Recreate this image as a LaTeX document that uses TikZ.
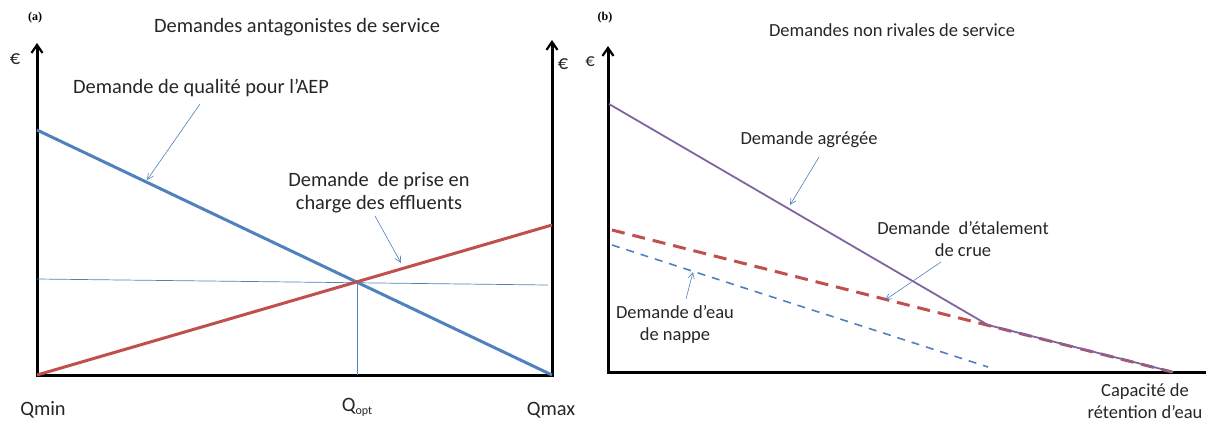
\documentclass[tikz,border=0pt]{standalone}
\usepackage{fontspec}
\setmainfont{Carlito}
\newfontfamily\serifb{Liberation Serif}
\usetikzlibrary{arrows.meta}
\definecolor{oblue}{HTML}{4F81BD}
\definecolor{ored}{HTML}{C0504D}
\definecolor{opurple}{HTML}{8064A2}
\definecolor{txt}{HTML}{262626}
\tikzset{
  axis/.style={line width=3pt, black},
  axarrow/.style={line width=3pt, black, -{Straight Barb[length=8pt,width=11pt,line width=2.2pt]}},
  curve/.style={line width=3pt},
  thinref/.style={line width=0.7pt, oblue},
  callout/.style={line width=0.6pt, oblue, -{Straight Barb[length=6pt,width=6pt]}},
  lbl/.style={font=\fontsize{20.4}{23}\selectfont, text=txt, inner sep=0pt, align=center},
  lblb/.style={font=\fontsize{18.5}{22}\selectfont, text=txt, inner sep=0pt, align=center},
  tag/.style={font=\serifb\bfseries\fontsize{12}{13}\selectfont, inner sep=0pt},
}
\begin{document}
\begin{tikzpicture}[x=1pt,y=-1pt]
\useasboundingbox (0,0) rectangle (1206,423);
% ---------- Panel (a) ----------
\coordinate (aO) at (37,375);
\coordinate (aX) at (552,375);
\coordinate (aYtop) at (37,43);
\coordinate (aRtop) at (552,40);
\draw[axarrow] (aO) -- (aYtop);
\draw[axarrow] (aX) -- (aRtop);
\draw[axis] (35.5,375) -- (553.5,375);
% horizontal and vertical reference lines
\coordinate (hL) at (37,279);
\coordinate (hR) at (548,285);
\coordinate (opt) at (357,282);
\coordinate (optB) at (357,375);
\draw[thinref] (hL) -- (hR);
\draw[thinref] (opt) -- (optB);
% demand curves
\coordinate (bS) at (37,130);
\coordinate (bE) at (552,375);
\coordinate (rS) at (37,375);
\coordinate (rE) at (552,225);
\draw[curve, oblue] (bS) -- (bE);
\draw[curve, ored] (rS) -- (rE);
% labels
\node[tag] (ta) at (35,18) {(a)};
\node[lbl] (titleA) at (297,27) {Demandes antagonistes de service};
\node[lbl] (eA) at (15,59) {€};
\node[lbl] (eA2) at (563,64) {€};
\node[lbl] (qual) at (201,88) {Demande de qualité pour l’AEP};
\coordinate (qualTip) at (147,180);
\draw[callout] (200,104) coordinate (qs) -- (qualTip);
\node[lbl] (prise) at (379,193) {Demande\ \ de prise en\\charge des effluents};
\coordinate (priseTip) at (401,263);
\draw[callout] (375,216) coordinate (ps) -- (priseTip);
\node[lbl] (qmin) at (43,410) {Qmin};
\node[lbl] (qopt) at (357,407) {Q{\fontsize{12}{12}\selectfont\raisebox{-3pt}{opt}}};
\node[lbl] (qmax) at (551,410) {Qmax};
% ---------- Panel (b) ----------
\coordinate (bO) at (608,372);
\coordinate (bYtop) at (608,46);
\draw[axarrow] (bO) -- (bYtop);
\draw[axis] (606.5,372) -- (1206,372);
\coordinate (pS) at (609,104);
\coordinate (pK) at (988,325);
\coordinate (pE) at (1173,372);
\coordinate (rdS) at (612,230);
\coordinate (rdE) at (1172,372);
\coordinate (bdS) at (612,245);
\coordinate (bdE) at (988,367);
\draw[line width=3pt, ored, dash pattern=on 13pt off 8pt] (rdS) -- (rdE);
\draw[line width=1.6pt, oblue, dash pattern=on 8pt off 7pt] (bdS) -- (bdE);
\draw[line width=1.8pt, opurple] (pS) -- (pK) -- (pE);
\node[tag] (tb) at (605,18) {(b)};
\node[lblb] (titleB) at (892,30) {Demandes non rivales de service};
\node[lblb] (eB) at (590,62) {€};
\node[lblb] (agg) at (809,140) {Demande agrégée};
\coordinate (aggTip) at (790,205);
\draw[callout] (819,157) coordinate (as) -- (aggTip);
\node[lblb] (etal) at (963,239) {Demande\ \ d’étalement\\de crue};
\coordinate (etalTip) at (885,300);
\draw[callout] (941,262) coordinate (es) -- (etalTip);
\node[lblb] (nappe) at (675,324) {Demande d’eau\\de nappe};
\coordinate (nappeTip) at (693,272);
\draw[callout] (686,299) coordinate (ns) -- (nappeTip);
\node[lblb] (cap) at (1145,401) {Capacité de\\rétention d’eau};
\end{tikzpicture}
\end{document}
